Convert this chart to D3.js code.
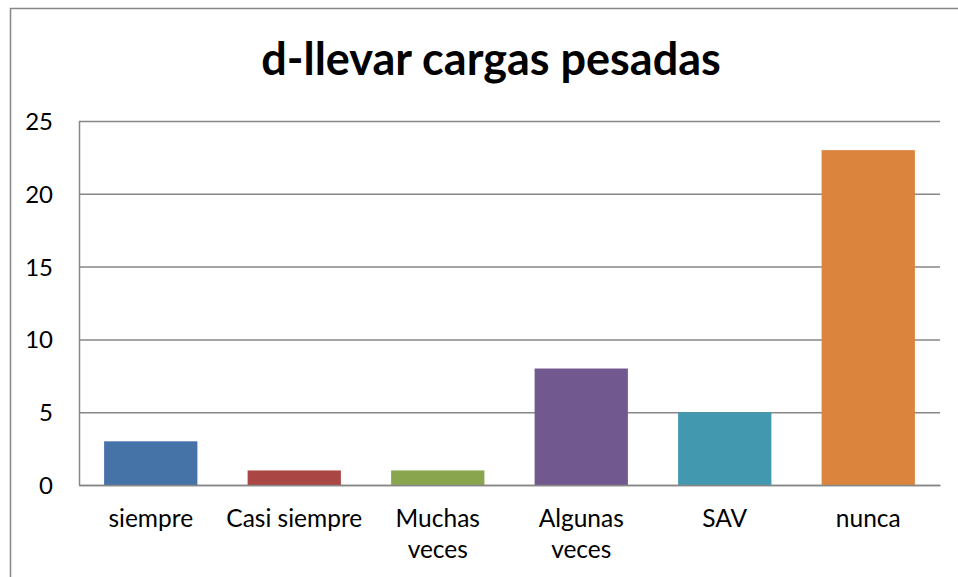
<!DOCTYPE html>
<html>
<head>
<meta charset="utf-8">
<script src="https://cdn.jsdelivr.net/npm/d3@7"></script>
<style>
  body { margin: 0; background: #fff; }
  text { font-family: Lato, "Open Sans", sans-serif; fill: #000; }
</style>
</head>
<body>
<div id="chart"></div>
<script>
const categories = ["siempre", "Casi siempre", "Muchas veces", "Algunas veces", "SAV", "nunca"];
const values = [3, 1, 1, 8, 5, 23];
const tickLabels = [["siempre"], ["Casi siempre"], ["Muchas", "veces"], ["Algunas", "veces"], ["SAV"], ["nunca"]];
const yTicks = [0, 5, 10, 15, 20, 25];
const colors = ["#4572A7", "#AA4643", "#89A54E", "#71588F", "#4198AF", "#DB843D"];
const title = "d-llevar cargas pesadas";

const W = 958, H = 577;
const margin = {top: 121, right: 18, bottom: 92, left: 79};
const width = W - margin.left - margin.right;
const height = H - margin.top - margin.bottom;

const svg = d3.select("#chart")
  .append("svg")
  .attr("width", W)
  .attr("height", H);

// outer chart frame (runs off the right and bottom edge)
svg.append("rect")
  .attr("x", 10.5).attr("y", 8.5)
  .attr("width", 970).attr("height", 600)
  .attr("fill", "none")
  .attr("stroke", "#878787")
  .attr("stroke-width", 1.5);

svg.append("text")
  .attr("x", 491)
  .attr("y", 75)
  .attr("text-anchor", "middle")
  .style("font-weight", "bold")
  .style("font-size", "45px")
  .text(title);

const g = svg.append("g")
  .attr("transform", "translate(" + margin.left + "," + margin.top + ")");

const x = d3.scaleBand()
  .domain(categories)
  .range([0, width])
  .paddingInner(0.35)
  .paddingOuter(0.175);

const y = d3.scaleLinear()
  .domain([0, 25])
  .range([height, 0]);

// gridlines
g.append("g")
  .call(d3.axisLeft(y).tickValues(yTicks).tickSize(-width).tickFormat(""))
  .call(s => s.select(".domain").remove())
  .selectAll("line")
  .attr("stroke", "#878787")
  .attr("stroke-width", 1.5);

// y axis
const yAxis = g.append("g")
  .call(d3.axisLeft(y).tickValues(yTicks).tickSize(0).tickPadding(26));
yAxis.select(".domain").attr("stroke", "#878787").attr("stroke-width", 1.5);
yAxis.selectAll("text")
  .style("font-size", "24px")
  .attr("dy", "0.35em");

// bars
g.selectAll(".bar")
  .data(values)
  .enter()
  .append("rect")
  .attr("class", "bar")
  .attr("x", (d, i) => x(categories[i]))
  .attr("y", d => y(d))
  .attr("width", x.bandwidth())
  .attr("height", d => height - y(d))
  .attr("fill", (d, i) => colors[i]);

// x axis
const xAxis = g.append("g")
  .attr("transform", "translate(0," + height + ")")
  .call(d3.axisBottom(x).tickSize(0).tickFormat(""));
xAxis.select(".domain").attr("stroke", "#878787").attr("stroke-width", 1.5);

xAxis.selectAll(".tick")
  .each(function(d, i) {
    const t = d3.select(this).append("text")
      .attr("text-anchor", "middle")
      .style("font-size", "24.5px")
      .attr("y", 42);
    tickLabels[i].forEach((line, j) => {
      t.append("tspan").attr("x", 0).attr("dy", j === 0 ? 0 : 31).text(line);
    });
  });
</script>
</body>
</html>
